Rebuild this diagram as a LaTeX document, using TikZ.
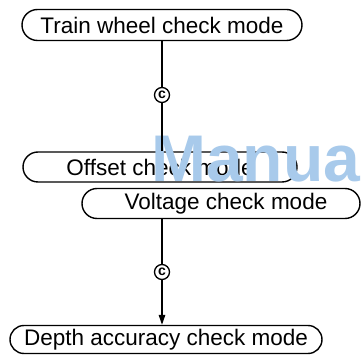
\documentclass[tikz,border=0pt]{standalone}
\usepackage{fontspec}
\newfontfamily\lsans{Liberation Sans}
\usetikzlibrary{shapes.misc,arrows.meta}
\definecolor{wmblue}{RGB}{168,202,235}
\tikzset{
  modebox/.style={draw, line width=1.4pt, rounded rectangle, inner sep=0pt,
    minimum height=30pt, font=\lsans\fontsize{22.5}{25}\selectfont},
  cmark/.style={draw, circle, line width=1.3pt, fill=white, inner sep=0pt,
    minimum size=15pt, font=\lsans\bfseries\fontsize{14}{14}\selectfont},
  link/.style={line width=1.4pt},
  wmark/.style={text=wmblue, inner sep=0pt, anchor=base west, text depth=0pt,
    font=\lsans\bfseries\fontsize{66}{68}\selectfont}
}
\begin{document}
\begin{tikzpicture}[x=1pt,y=-1pt]
\useasboundingbox (0,0) rectangle (362,355);
\clip (0,0) rectangle (362,355);
\fill[white] (0,0) rectangle (362,355);
\node[modebox, minimum width=280pt, minimum height=31pt] (train) at (162,25) {Train wheel check mode};
\node[modebox, minimum width=274pt] (offset) at (160,167) {Offset check mode};
\node[wmark] (wm) at (151,182) {Manua};
\node[modebox, minimum width=278pt] (voltage) at (221,203.5) {\hspace*{10pt}Voltage check mode};
\node[modebox, minimum width=312pt, minimum height=28pt] (depth) at (166,339.5) {Depth accuracy check mode};
\node[cmark] (c1) at (162,95) {c};
\node[cmark] (c2) at (162,272) {c};
\draw[link] (c1 |- train.south) -- (c1.north);
\draw[link] (c1.south) -- (c1 |- offset.north);
\draw[link] (c2 |- voltage.south) -- (c2.north);
\draw[link, -{Triangle[length=10pt,width=6.5pt]}] (c2.south) -- (c2 |- depth.north);
\end{tikzpicture}
\end{document}
